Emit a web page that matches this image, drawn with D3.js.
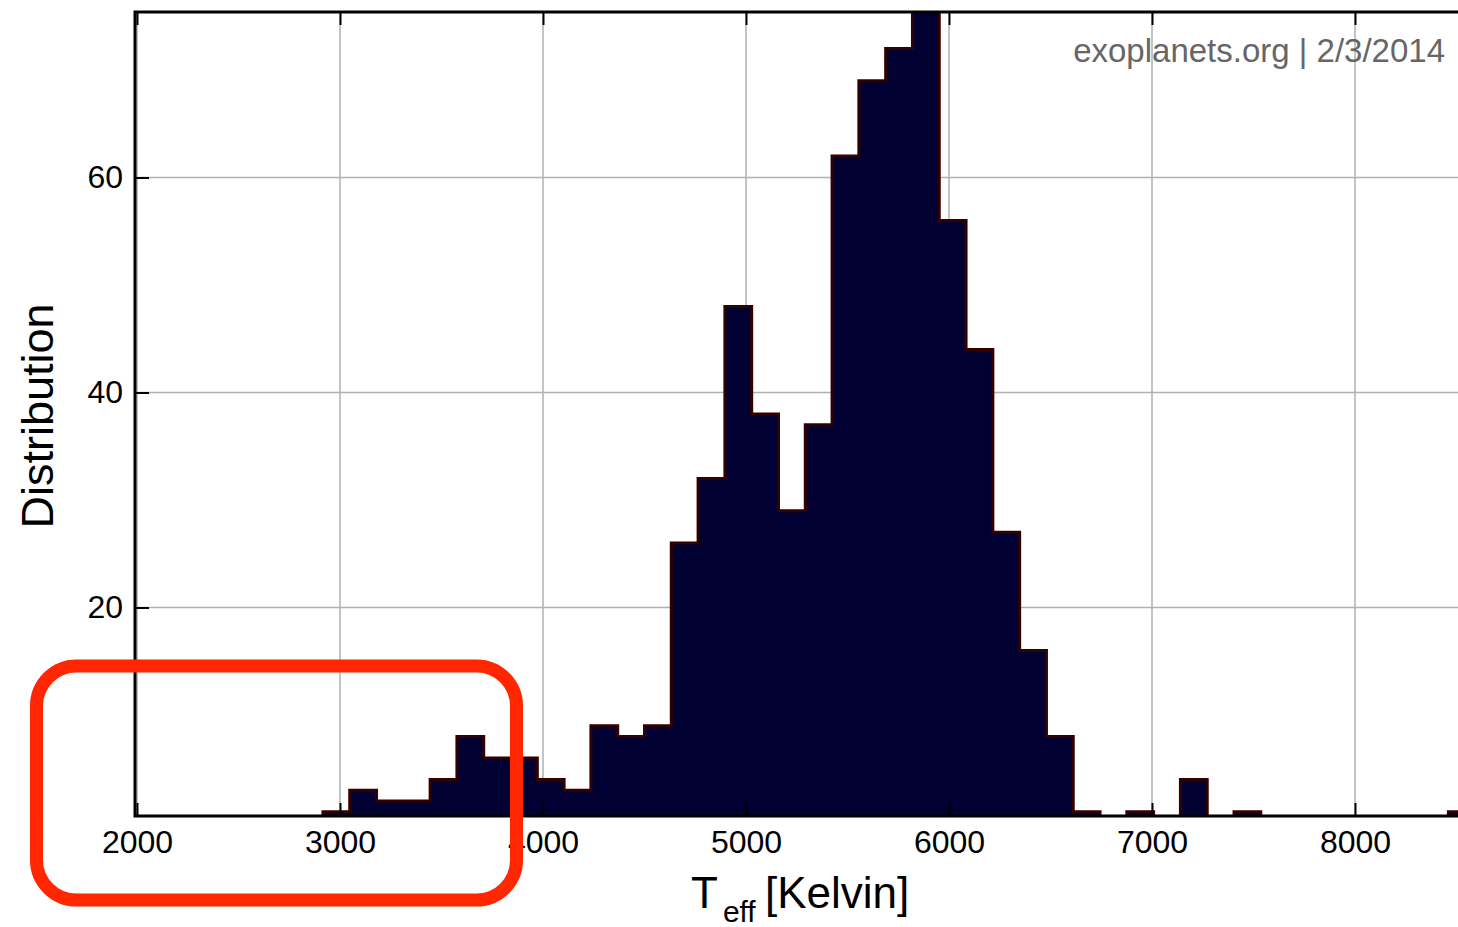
<!DOCTYPE html>
<html>
<head>
<meta charset="utf-8">
<script src="https://cdn.jsdelivr.net/npm/d3@7"></script>
<style>
    body { margin: 0; background: #fff; }
    svg { display: block; font-family: "Liberation Sans", Arial, Helvetica, sans-serif; }
</style>
</head>
<body>
<div id="chart"></div>
<script>
// histogram bins of stellar Teff (left edges, Kelvin) and counts
const binEdges = [2916, 3048, 3180, 3312, 3444, 3576, 3708, 3840, 3972, 4104,
    4236, 4368, 4500, 4632, 4764, 4896, 5028, 5160, 5292, 5424,
    5556, 5688, 5820, 5952, 6084, 6216, 6348, 6480, 6612, 6744,
    6876, 7008, 7140, 7272, 7404, 7536, 7668, 7800, 7932, 8064,
    8196, 8328, 8460, 8592]
const binCounts = [1, 3, 2, 2, 4, 8, 6, 6, 4, 3,
    9, 8, 9, 26, 32, 48, 38, 29, 37, 62,
    69, 72, 77, 56, 44, 27, 16, 8, 1, 0,
    1, 0, 4, 0, 1, 0, 0, 0, 0, 0,
    0, 0, 1]
const xTicks = [2000, 3000, 4000, 5000, 6000, 7000, 8000]
const yTicks = [20, 40, 60]
const watermark = "exoplanets.org | 2/3/2014"

const width = 1458
const height = 927
const plotLeft = 135, plotTop = 12, plotBottom = 816

let svg = d3.select("#chart").append("svg")
    .attr("width", width)
    .attr("height", height)

let x = d3.scaleLinear().domain([2000, 8000]).range([137, 1355])
let y = d3.scaleLinear().domain([0, 60]).range([822.5, 177.5])

svg.append("clipPath").attr("id", "plotClip")
    .append("rect")
    .attr("x", plotLeft).attr("y", plotTop)
    .attr("width", width - plotLeft + 20).attr("height", plotBottom - plotTop)

// grid
let grid = svg.append("g").attr("clip-path", "url(#plotClip)")
grid.selectAll(".vgrid").data(xTicks).enter()
    .append("line").attr("class", "vgrid")
    .attr("x1", d => x(d)).attr("x2", d => x(d))
    .attr("y1", plotTop).attr("y2", plotBottom)
    .style("stroke", "#b0b0b0").style("stroke-width", 1.5)
grid.selectAll(".hgrid").data(yTicks).enter()
    .append("line").attr("class", "hgrid")
    .attr("x1", plotLeft).attr("x2", width + 10)
    .attr("y1", d => y(d)).attr("y2", d => y(d))
    .style("stroke", "#b0b0b0").style("stroke-width", 1.5)

// step histogram
let pts = binCounts.map((c, i) => [binEdges[i], c])
pts.push([binEdges[binEdges.length - 1], binCounts[binCounts.length - 1]])
pts.unshift([binEdges[0], 0])
pts.push([binEdges[binEdges.length - 1], 0])

let area = d3.area()
    .x(d => x(d[0]))
    .y0(y(0))
    .y1(d => y(d[1]))
    .curve(d3.curveStepAfter)

svg.append("g").attr("clip-path", "url(#plotClip)")
    .append("path")
    .datum(pts)
    .attr("d", area)
    .style("fill", "#000033")
    .style("stroke", "#330000")
    .style("stroke-width", 3)
    .style("stroke-linejoin", "miter")

// axes, ticks pointing inwards
let xAxis = svg.append("g")
    .attr("transform", `translate(0,${plotBottom})`)
    .call(d3.axisBottom(x).tickValues(xTicks).tickFormat(d3.format("d"))
        .tickSize(-13).tickSizeOuter(0).tickPadding(14))
let xTop = svg.append("g")
    .attr("transform", `translate(0,${plotTop})`)
    .call(d3.axisTop(x).tickValues(xTicks).tickSize(-13).tickSizeOuter(0).tickFormat(""))
let yAxis = svg.append("g")
    .attr("transform", `translate(${plotLeft},0)`)
    .call(d3.axisLeft(y).tickValues(yTicks).tickSize(-14).tickSizeOuter(0).tickPadding(12))

;[xAxis, xTop, yAxis].forEach(a => {
    a.select(".domain").remove()
    a.selectAll(".tick line").style("stroke", "#000").style("stroke-width", 2)
    a.selectAll(".tick text")
        .style("font-size", "32px")
        .style("font-family", "'Liberation Sans', Arial, sans-serif")
        .style("fill", "#000")
})

// spines (right one is off the page)
svg.append("path")
    .attr("d", `M${width + 10},${plotTop} H${plotLeft} V${plotBottom} H${width + 10}`)
    .style("fill", "none")
    .style("stroke", "#000")
    .style("stroke-width", 3)

// labels
let xLabel = svg.append("text")
    .attr("x", 691).attr("y", 908)
    .style("font-size", "44px")
xLabel.append("tspan").text("T")
xLabel.append("tspan").attr("dx", 5).attr("dy", 14).style("font-size", "30px").text("eff")
xLabel.append("tspan").attr("x", 765).attr("dy", -14).text("[Kelvin]")

svg.append("text")
    .attr("transform", "translate(53,416) rotate(-90)")
    .attr("text-anchor", "middle")
    .style("font-size", "45px")
    .text("Distribution")

svg.append("text")
    .attr("x", 1445).attr("y", 62)
    .attr("text-anchor", "end")
    .style("font-size", "33px")
    .style("fill", "#666")
    .text(watermark)

// red highlight box
svg.append("rect")
    .attr("x", 36.5).attr("y", 666)
    .attr("width", 480).attr("height", 234)
    .attr("rx", 40).attr("ry", 40)
    .style("fill", "none")
    .style("stroke", "#ff2600")
    .style("stroke-width", 13)
</script>
</body>
</html>
